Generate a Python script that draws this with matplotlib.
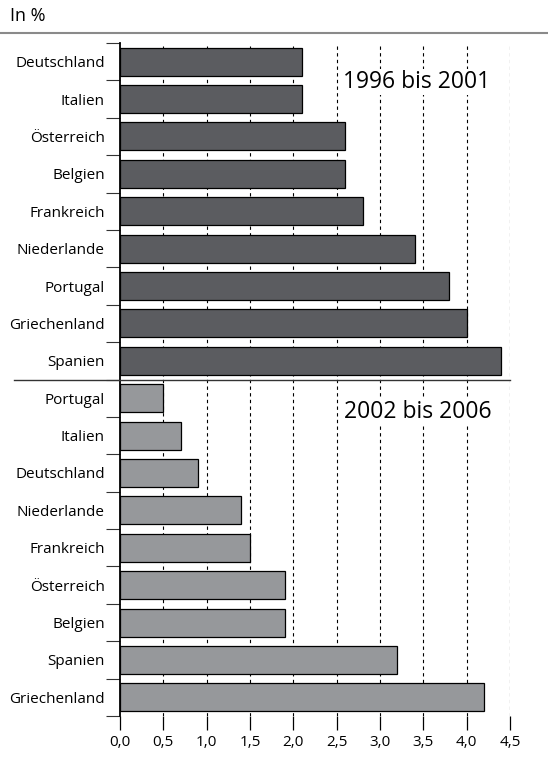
import matplotlib.pyplot as plt
from matplotlib.lines import Line2D

# data
top_labels = ['Deutschland', 'Italien', 'Österreich', 'Belgien', 'Frankreich',
              'Niederlande', 'Portugal', 'Griechenland', 'Spanien']
top_values = [2.1, 2.1, 2.6, 2.6, 2.8, 3.4, 3.8, 4.0, 4.4]
bottom_labels = ['Portugal', 'Italien', 'Deutschland', 'Niederlande', 'Frankreich',
                 'Österreich', 'Belgien', 'Spanien', 'Griechenland']
bottom_values = [0.5, 0.7, 0.9, 1.4, 1.5, 1.9, 1.9, 3.2, 4.2]
x_ticks = [0, 0.5, 1.0, 1.5, 2.0, 2.5, 3.0, 3.5, 4.0, 4.5]
x_ticklabels = ['0,0', '0,5', '1,0', '1,5', '2,0', '2,5', '3,0', '3,5', '4,0', '4,5']

plt.rcParams['font.family'] = ['Open Sans', 'DejaVu Sans']

W, H = 548, 758
fig = plt.figure(figsize=(W / 100, H / 100), dpi=100)
ax = fig.add_axes([120 / W, 1 - 716 / H, 390 / W, (716 - 43) / H])

n_top = len(top_labels)
n_bot = len(bottom_labels)
pos_top = [i + 0.5 for i in range(n_top)]
pos_bot = [n_top + i + 0.5 for i in range(n_bot)]

ax.barh(pos_top, top_values, height=0.75, color='#5b5c60', edgecolor='black',
        linewidth=0.9, zorder=3)
ax.barh(pos_bot, bottom_values, height=0.75, color='#96989b', edgecolor='black',
        linewidth=0.9, zorder=3)

ax.set_ylim(n_top + n_bot, 0)
ax.set_xlim(0, 4.5)

# grid
for x in x_ticks[1:]:
    ax.axvline(x, color='black', linestyle=(0, (3, 3)), linewidth=0.8, zorder=1)

# y ticks: marks at row boundaries, labels at row centers
ax.set_yticks(range(n_top + n_bot + 1))
ax.set_yticklabels([])
ax.tick_params(axis='y', which='major', length=10, width=0.8, color='#333333')
ax.set_yticks(pos_top + pos_bot, minor=True)
ax.set_yticklabels(top_labels + bottom_labels, minor=True, fontsize=11)
ax.tick_params(axis='y', which='minor', length=0, pad=11)

ax.set_xticks(x_ticks)
ax.set_xticklabels(x_ticklabels, fontsize=11)
ax.tick_params(axis='x', length=10, width=0.9, color='black', pad=4)

for s in ['top', 'right', 'bottom']:
    ax.spines[s].set_visible(False)
ax.spines['left'].set_linewidth(1.3)

# separator line between the two periods
fig.add_artist(Line2D([14 / W, 510 / W], [1 - 380 / H, 1 - 380 / H],
                      color='#333333', linewidth=1.0))
# top rule
fig.add_artist(Line2D([0, 1], [1 - 33 / H, 1 - 33 / H], color='#8a8a8a', linewidth=1.5))

fig.text(10 / W, 1 - 16 / H, 'In %', fontsize=13, va='center', ha='left')

ax.text(4.27, 1.04, '1996 bis 2001', fontsize=16.5, ha='right', va='center', zorder=4,
        bbox=dict(facecolor='white', edgecolor='none', pad=1))
ax.text(4.29, n_top + 0.86, '2002 bis 2006', fontsize=16.5, ha='right', va='center', zorder=4,
        bbox=dict(facecolor='white', edgecolor='none', pad=1))

fig.savefig('out.png', dpi=100)
